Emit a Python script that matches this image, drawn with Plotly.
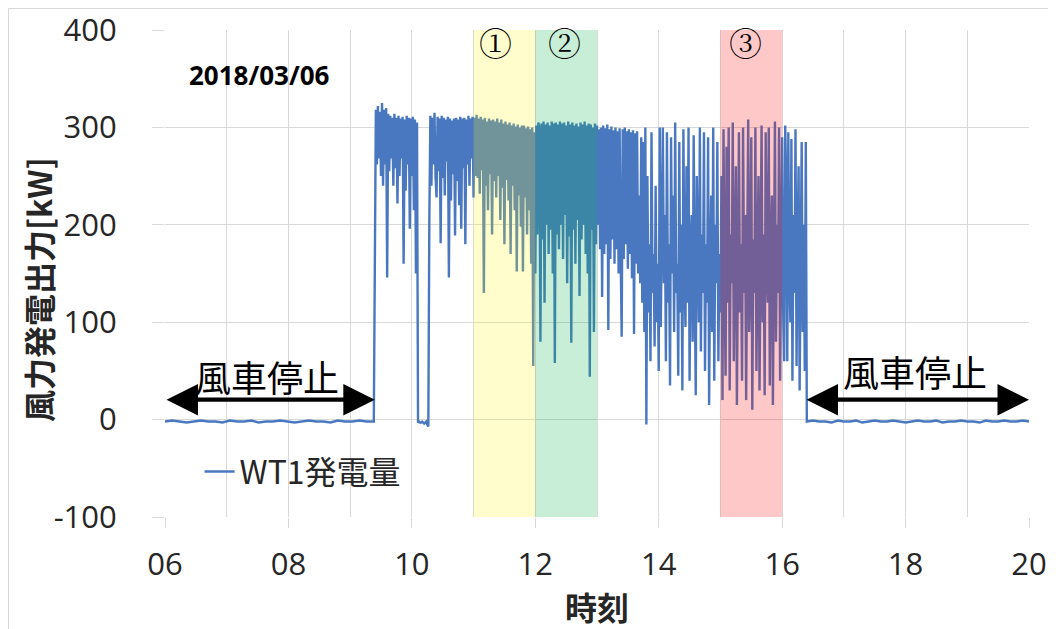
import plotly.graph_objects as go

# ---------------- data ----------------
# x axis: time of day in hours; tick labels
tick_hours = [6, 8, 10, 12, 14, 16, 18, 20]
tick_labels = ["06", "08", "10", "12", "14", "16", "18", "20"]
y_ticks = [-100, 0, 100, 200, 300, 400]
y_tick_labels = ["-100", "0", "100", "200", "300", "400"]

# morning: turbine stopped, samples every 7 min starting 06:00
morning_start, morning_step = "06:00", 7
wt1_morning = [-2, -1, -2, -3, -2, -1, -2, -2, -3, -1, -2, -2, -1, -3, -2,
               -2, -1, -2, -3, -2, -1, -2, -2, -3, -1, -2, -2, -1, -2, -2]

# running period: 1-minute samples starting 09:24 (kW)
run_start, run_step = "09:24", 1
wt1_run = [
    190, 318, 262, 322, 268, 316, 250, 325, 240, 318, 262, 320, 146, 314, 255, 312, 268, 310, 240, 314,
    258, 310, 222, 312, 250, 309, 268, 311, 160, 308, 235, 312, 262, 310, 196, 309, 250, 311, 215, 308,
    150, 305, -3, -2, -3, -3, -2, -3, -4, -3, -2, -5, -7, 205, 312, 240, 310, 262, 315, 250,
    228, 311, 255, 309, 181, 312, 248, 310, 230, 308, 265, 311, 146, 309, 225, 307, 252, 309, 189, 310,
    245, 308, 220, 311, 196, 309, 258, 310, 180, 308, 262, 312, 240, 309, 268, 311, 228, 310, 250, 313,
    248, 309, 232, 311, 256, 308, 130, 310, 240, 306, 215, 309, 252, 307, 190, 308, 245, 306, 228, 309,
    250, 305, 205, 308, 238, 304, 180, 306, 246, 303, 225, 305, 170, 302, 240, 304, 215, 301, 152, 303,
    230, 300, 198, 302, 152, 302, 228, 299, 190, 301, 215, 298, 160, 300, 55, 295, 150, 302, 190, 305,
    298, 80, 304, 185, 306, 120, 303, 200, 305, 170, 302, 195, 306, 150, 304, 58, 305, 190, 303, 175,
    306, 200, 304, 165, 305, 210, 302, 140, 306, 188, 303, 79, 305, 195, 302, 160, 304, 205, 301, 127,
    305, 185, 303, 200, 306, 170, 302, 150, 304, 44, 303, 195, 300, 90, 304, 180, 302, 200, 298, 175,
    300, 126, 302, 170, 299, 180, 303, 92, 298, 165, 301, 185, 297, 160, 300, 175, 296, 150, 299, 170,
    85, 298, 165, 300, 180, 296, 155, 298, 170, 295, 145, 297, 88, 294, 160, 296, 150, 230, 140, 290,
    120, 285, 90, 300, -5, 250, 110, 180, 60, 295, 130, 170, 75, 240, 100, 160, 50, 300, 95, 190,
    300, 140, 210, 60, 295, 120, 180, 35, 290, 150, 230, 90, 305, 130, 160, 45, 285, 110, 200, 30,
    298, 150, 95, 260, 120, 300, 40, 170, 210, 80, 292, 140, 25, 250, 160, 100, 300, 70, 190, 130,
    295, 50, 180, 120, 290, 15, 160, 230, 90, 300, 40, 200, 140, 285, 60, 170, 110, 250, 20, 298,
    150, 45, 280, 120, 300, 30, 190, 140, 305, 60, 170, 260, 15, 150, 295, 110, 180, 40, 300, 130,
    210, 20, 170, 308, 90, 150, 290, 10, 185, 130, 300, 50, 160, 250, 30, 140, 302, 100, 190, 25,
    295, 160, 120, 300, 35, 180, 230, 15, 150, 306, 80, 200, 130, 300, 40, 170, 290, 110, 60, 302,
    240, 60, 295, 150, 100, 288, 40, 210, 130, 298, 55, 180, 260, 30, 140, 285, 90, 200, 50, 285,
]

# evening: turbine stopped, samples every 6 min starting 16:24
evening_start, evening_step = "16:24", 6
wt1_evening = [-2, -1, -2, -2, -3, -1, -2, -2, -1, -3, -2, -1, -2, -2, -1, -2, -3, -2, -1,
               -2, -2, -1, -3, -2, -2, -1, -2, -2, -3, -1, -2, -2, -1, -2, -2, -1, -2]

# highlighted periods (start hour, end hour, label)
period_starts = [11, 12, 15]
period_ends = [12, 13, 16]
period_labels = ["①", "②", "③"]
period_label_x = [11.35, 12.47, 15.41]

# stop annotations
stop_text = "風車停止"
stop_left = (6.0, 9.40)
stop_right = (16.37, 20.0)


# ---------------- build series ----------------
def hhmm_to_hour(s):
    h, m = s.split(":")
    return int(h) + int(m) / 60.0


def times(start, step, n):
    t0 = hhmm_to_hour(start)
    return [t0 + i * step / 60.0 for i in range(n)]


xs = (times(morning_start, morning_step, len(wt1_morning))
      + times(run_start, run_step, len(wt1_run))
      + times(evening_start, evening_step, len(wt1_evening)))
ys = wt1_morning + wt1_run + wt1_evening

LINE = "#4a78c0"
GRID = "#d9d9d9"
TXT = "#262626"
JP = "Noto Sans CJK JP, Noto Sans, sans-serif"
NUM = "Open Sans, Noto Sans, sans-serif"

W, H = 1048, 621
ML, MR, MT, MB = 157, 27, 22, 112
PW, PH = W - ML - MR, H - MT - MB

fig = go.Figure()
fig.add_trace(go.Scatter(
    x=xs, y=ys, mode="lines", name="WT1発電量",
    line=dict(color=LINE, width=2.4),
))

shapes = []
fills = ["rgba(255,245,20,0.22)", "rgba(11,180,77,0.225)", "rgba(255,11,11,0.225)"]
for s, e, c in zip(period_starts, period_ends, fills):
    shapes.append(dict(type="rect", xref="x", yref="y", x0=s, x1=e, y0=-100, y1=400,
                       fillcolor=c, line=dict(width=0), layer="above"))
# outer chart border
shapes.append(dict(type="rect", xref="paper", yref="paper",
                   x0=-(ML - 0.5) / PW, x1=1 + (MR + 20) / PW,
                   y0=-(MB + 20) / PH, y1=1 + (MT - 0.5) / PH,
                   line=dict(color=GRID, width=1), fillcolor="rgba(0,0,0,0)", layer="below"))

annotations = []
for lx, lab in zip(period_label_x, period_labels):
    annotations.append(dict(x=lx, y=385, xref="x", yref="y", text=lab, showarrow=False,
                            font=dict(family="DejaVu Serif, Noto Serif CJK JP, serif", size=33, color="#000")))
annotations.append(dict(x=6.36, y=354, xref="x", yref="y", text="<b>2018/03/06</b>", showarrow=False,
                        xanchor="left", font=dict(family=NUM, size=26, color="#000")))
# double-headed arrows
for (a, b) in (stop_left, stop_right):
    annotations.append(dict(x=b, y=20.5, ax=a, ay=20.5, xref="x", yref="y", axref="x", ayref="y",
                            text="", showarrow=True, arrowhead=2, arrowside="end+start",
                            arrowsize=1.5, arrowwidth=4.2, arrowcolor="#000",
                            standoff=0, startstandoff=0))
annotations.append(dict(x=7.65, y=45, xref="x", yref="y", text=stop_text, showarrow=False,
                        font=dict(family=JP, size=36, color="#000")))
annotations.append(dict(x=18.15, y=50, xref="x", yref="y", text=stop_text, showarrow=False,
                        font=dict(family=JP, size=36, color="#000")))
# y axis title
annotations.append(dict(x=-(ML - 30) / PW, y=0.466, xref="paper", yref="paper",
                        xanchor="center", yanchor="middle",
                        text="<b>風力発電出力[kW]</b>", textangle=-90, showarrow=False,
                        font=dict(family=JP, size=32, color=TXT)))

fig.update_layout(
    width=W, height=H,
    margin=dict(l=ML, r=MR, t=MT, b=MB, autoexpand=False),
    paper_bgcolor="white", plot_bgcolor="white",
    shapes=shapes, annotations=annotations,
    showlegend=True,
    legend=dict(x=0.04, y=0.093, xanchor="left", yanchor="middle",
                bgcolor="rgba(0,0,0,0)", font=dict(family=JP, size=32, color=TXT),
                itemwidth=30),
    xaxis=dict(range=[6, 20], tickvals=tick_hours, ticktext=tick_labels,
               showgrid=True, gridcolor=GRID, gridwidth=1,
               minor=dict(dtick=1, tick0=6, showgrid=True, gridcolor=GRID, gridwidth=1),
               ticks="outside", ticklen=10, tickcolor=GRID,
               ticklabelstandoff=10, automargin=False, ticklabeloverflow="allow",
               tickfont=dict(family=NUM, size=31, color=TXT),
               zeroline=False, showline=False,
               title=dict(text="<b>時刻</b>", font=dict(family=JP, size=32, color=TXT), standoff=15)),
    yaxis=dict(range=[-100, 400], tickvals=y_ticks, ticktext=y_tick_labels,
               showgrid=True, gridcolor=GRID, gridwidth=1,
               ticks="outside", ticklen=12, tickcolor=GRID,
               ticklabelstandoff=29, automargin=False, ticklabeloverflow="allow",
               tickfont=dict(family=NUM, size=31, color=TXT),
               zeroline=False, showline=False),
)

fig.write_html("out.html")
